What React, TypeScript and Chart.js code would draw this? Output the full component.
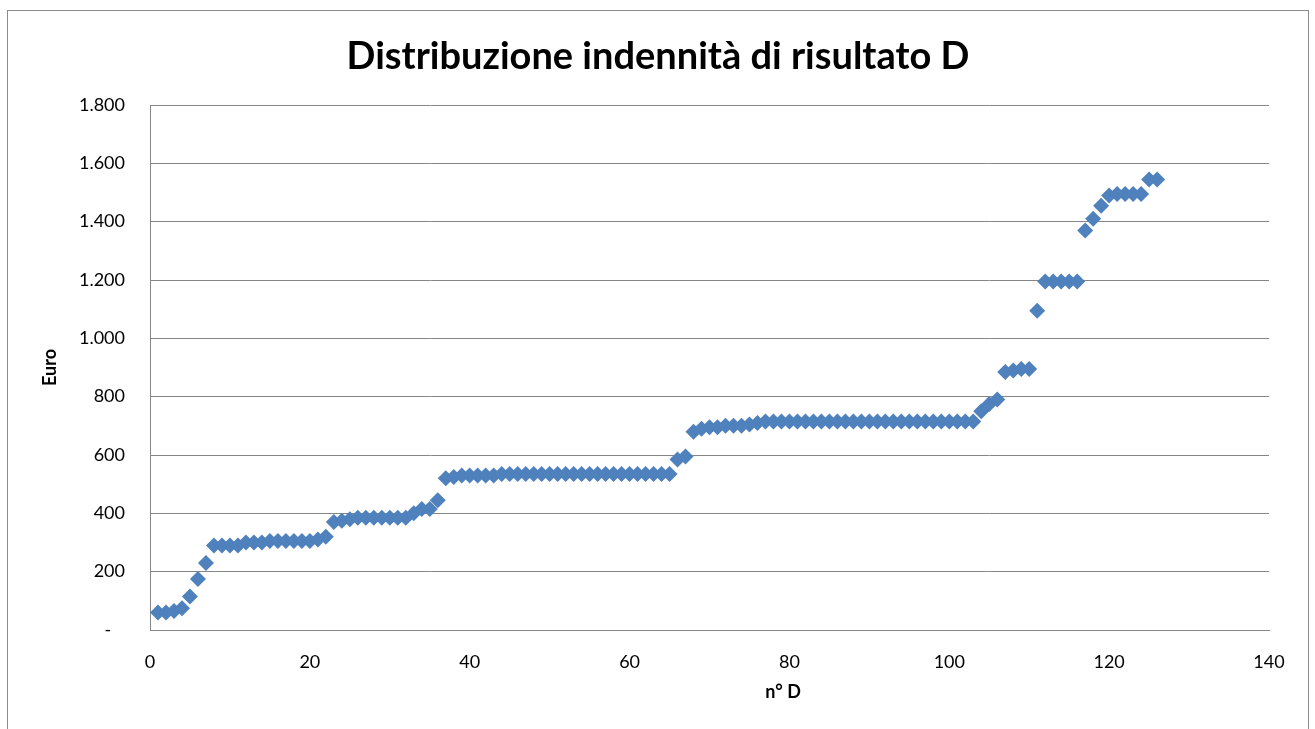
import React, { useEffect, useRef } from "react";
import { Chart, registerables } from "chart.js";

Chart.register(...registerables);

const TITLE = "Distribuzione indennità di risultato D";
const X_TITLE = "n° D";
const Y_TITLE = "Euro";

// Euro amounts for D n° 1..126 (sorted)
const euroValues: number[] = [
  60, 60, 65, 75, 115, 175, 230, 290, 290, 290,
  290, 300, 300, 300, 305, 305, 305, 305, 305, 305,
  310, 320, 370, 375, 380, 385, 385, 385, 385, 385,
  385, 385, 400, 415, 415, 445, 520, 525, 530, 530,
  530, 530, 530, 535, 535, 535, 535, 535, 535, 535,
  535, 535, 535, 535, 535, 535, 535, 535, 535, 535,
  535, 535, 535, 535, 535, 585, 595, 680, 690, 695,
  695, 700, 700, 700, 705, 710, 715, 715, 715, 715,
  715, 715, 715, 715, 715, 715, 715, 715, 715, 715,
  715, 715, 715, 715, 715, 715, 715, 715, 715, 715,
  715, 715, 715, 750, 775, 790, 885, 890, 895, 895,
  1095, 1195, 1195, 1195, 1195, 1195, 1370, 1410, 1455, 1490,
  1495, 1495, 1495, 1495, 1545, 1545,
];

const X_MIN = 0;
const X_MAX = 140;
const X_STEP = 20;
const Y_MIN = 0;
const Y_MAX = 1800;
const Y_STEP = 200;

const COLOR = "#4F81BD";
const FONT = "Lato, 'Open Sans', 'DejaVu Sans', sans-serif";

function formatIt(v: number): string {
  if (v === 0) return "-   ";
  const s = String(Math.round(v));
  return s.replace(/\B(?=(\d{3})+(?!\d))/g, ".");
}

const decorPlugin = {
  id: "decor",
  beforeDraw(chart: any) {
    const ctx = chart.ctx;
    ctx.save();
    ctx.fillStyle = "#ffffff";
    ctx.fillRect(0, 0, chart.width, chart.height);
    ctx.strokeStyle = "#8c8c8c";
    ctx.lineWidth = 1;
    ctx.strokeRect(7.5, 10.5, 1301, 740);
    ctx.restore();
  },
  afterDraw(chart: any) {
    const ctx = chart.ctx;
    ctx.save();
    ctx.fillStyle = "#000000";
    ctx.textAlign = "center";
    ctx.textBaseline = "middle";
    ctx.font = `bold 38px ${FONT}`;
    ctx.fillText(TITLE, 658, 57);
    ctx.font = `bold 18px ${FONT}`;
    ctx.fillText(X_TITLE, 783, 692);
    ctx.restore();
  },
};

export default function App() {
  const ref = useRef<HTMLCanvasElement | null>(null);

  useEffect(() => {
    if (!ref.current) return;
    const points = euroValues.map((y, i) => ({ x: i + 1, y }));
    const chart = new Chart(ref.current, {
      type: "scatter",
      data: {
        datasets: [
          {
            label: "D",
            data: points,
            pointStyle: "rectRot",
            pointRadius: 8,
            pointHoverRadius: 8,
            backgroundColor: COLOR,
            borderColor: COLOR,
            borderWidth: 0,
          },
        ],
      },
      options: {
        animation: false,
        responsive: false,
        maintainAspectRatio: false,
        layout: { padding: { top: 105, right: 46, bottom: 27, left: 0 } },
        plugins: {
          legend: { display: false },
          tooltip: { enabled: false },
          title: { display: false },
        },
        scales: {
          x: {
            type: "linear",
            min: X_MIN,
            max: X_MAX,
            ticks: {
              stepSize: X_STEP,
              color: "#000000",
              font: { family: FONT, size: 18 },
              padding: 21,
            },
            grid: { display: false, drawTicks: false },
            border: { display: true, color: "#868686", width: 1 },
            title: { display: false },
            afterFit: (s: any) => {
              s.height = 72;
            },
          },
          y: {
            type: "linear",
            min: Y_MIN,
            max: Y_MAX,
            ticks: {
              stepSize: Y_STEP,
              color: "#000000",
              font: { family: FONT, size: 18 },
              padding: 25,
              callback: (v: any) => formatIt(Number(v)),
            },
            grid: { color: "#868686", lineWidth: 1, drawTicks: false },
            border: { display: true, color: "#868686", width: 1 },
            title: {
              display: true,
              text: Y_TITLE,
              color: "#000000",
              font: { family: FONT, size: 18, weight: "bold" },
              padding: { top: 39, bottom: 0 },
            },
            afterFit: (s: any) => {
              s.width = 150;
            },
          },
        },
      },
      plugins: [decorPlugin],
    });
    return () => chart.destroy();
  }, []);

  return (
    <div style={{ position: "fixed", left: 0, top: 0, width: 1315, height: 729, background: "#fff" }}>
      <canvas ref={ref} width={1315} height={729} style={{ display: "block" }} />
    </div>
  );
}
